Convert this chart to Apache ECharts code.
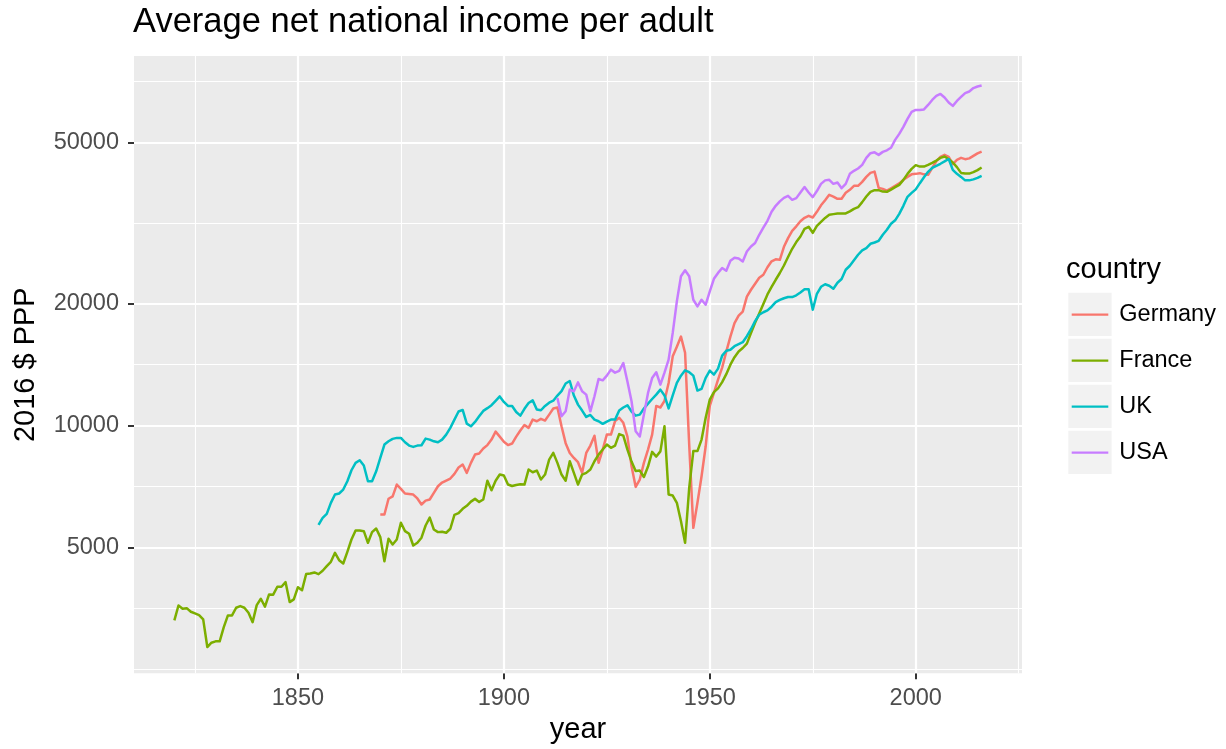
<!DOCTYPE html>
<html><head><meta charset="utf-8">
<script src="https://cdn.jsdelivr.net/npm/echarts@6/dist/echarts.min.js"></script>
<style>html,body{margin:0;padding:0;background:#fff}#c{width:1226px;height:749px}</style>
</head><body><div id="c"></div>
<script>
const countries = ['Germany', 'France', 'UK', 'USA'];
const colors = ['#F8766D', '#7CAE00', '#00BFC4', '#C77CFF'];
const startYears = [1870, 1820, 1855, 1913];

const germany = [
  6024,6024,6590,6680,7143,6970,6788,6770,6749,6600,
  6376,6520,6560,6815,7074,7225,7308,7392,7592,7870,
  8003,7634,8081,8471,8520,8765,8940,9224,9650,9380,
  9110,8940,9020,9380,9710,10020,9860,10334,10240,10380,
  10280,10632,11010,11070,9950,9040,8550,8310,8110,7634,
  8550,8915,9430,8081,8715,9490,9490,10250,10440,10150,
  9380,7930,7050,7349,8081,8715,9490,11170,11070,11500,
  12730,14810,15650,16570,15110,8966,5584,6438,7490,8880,
  11170,12030,12971,13890,15210,16560,17900,18660,19090,20790,
  21630,22380,23160,23554,24580,25430,25720,25649,27620,29010,
  30240,31030,31930,32560,32940,32620,33690,34960,35970,37107,
  36750,36280,36280,37540,38177,39050,39050,39950,41100,42040,
  42350,38600,38390,38000,38520,39050,39610,40408,41100,41690,
  41810,41980,41690,41573,43270,44920,46050,46575,46050,44180,
  45271,45790,45450,45660,46310,46980,47470
];
const france = [
  3300,3590,3525,3537,3465,3432,3400,3317,2835,2906,
  2928,2928,3176,3394,3394,3545,3578,3545,3446,3266,
  3599,3732,3566,3824,3818,3994,3994,4100,3661,3717,
  3985,3918,4296,4309,4333,4292,4374,4491,4604,4845,
  4646,4560,4873,5226,5501,5501,5480,5129,5450,5564,
  5297,4620,5247,5080,5226,5746,5480,5400,5051,5129,
  5280,5659,5918,5532,5450,5462,5431,5556,6012,6071,
  6221,6328,6483,6584,6472,6560,7300,6915,7300,7561,
  7518,7143,7085,7123,7155,7143,7779,7660,7735,7349,
  7561,8233,8553,8081,7561,7300,8154,7634,7143,7561,
  7634,7779,8154,8471,8715,8966,8805,8912,9517,9436,
  8715,8140,7712,7735,7455,7913,8601,8376,8627,9949,
  6749,6710,6438,5800,5129,7010,8641,8641,9224,10440,
  11578,12080,12340,12790,13384,14125,14740,15230,15530,15920,
  16910,17930,18900,19940,21060,21980,22894,23790,24830,26050,
  27300,28360,29280,30590,30940,29900,31110,31830,32540,33122,
  33250,33380,33380,33380,33770,34270,34590,35600,36750,37740,
  38110,38110,37800,37740,38240,38760,39277,40408,41810,43020,
  43930,43580,43580,44000,44510,45090,45790,46140,45450,44590,
  43440,42040,41870,41870,42210,42700,43340
];
const uk = [
  5680,5910,6048,6438,6749,
  6788,6943,7278,7748,8081,8200,7958,7278,7278,7704,
  8313,8966,9136,9261,9314,9314,9085,8915,8850,8915,
  8932,9276,9224,9136,9085,9224,9490,9860,10334,10820,
  10920,10100,9950,10200,10530,10860,11030,11220,11500,11790,
  11430,11170,11170,10790,10570,10990,11360,11530,10950,10900,
  11170,11380,11510,11850,12150,12690,12870,11850,11254,10880,
  10490,10610,10334,10240,10090,10220,10334,10334,10880,11070,
  11210,10820,10570,10630,11010,11320,11620,11910,12255,11860,
  11010,11860,12730,13270,13680,13530,13270,12190,12310,13100,
  13650,13345,13810,14870,15290,15382,15690,15870,16050,16610,
  17280,18090,18766,19030,19230,19640,20150,20410,20610,20750,
  20750,20960,21300,21690,21690,19307,21140,22000,22320,22130,
  21750,22510,22990,24233,24790,25580,26389,27070,27410,28090,
  28300,28570,29564,30416,31470,32100,33310,34860,36690,37520,
  38270,39650,41000,42290,43270,43770,44280,44870,45500,42771,
  41810,41090,40290,40290,40520,40870,41340
];
const usa = [
  11690,10530,10833,12255,12140,12770,12140,
  11912,10833,11800,13020,12920,13270,13730,13500,13640,14260,
  12840,11470,9670,9390,10632,12030,13090,13530,12608,13500,
  14532,16920,20240,23350,24170,23350,20435,19670,20435,19863,
  21420,23020,23800,24470,24100,25500,25960,25830,25410,26890,
  27660,28210,29564,30790,32010,33700,34860,35760,36480,36900,
  36068,36420,37600,38780,37600,36630,37920,39500,40290,40408,
  39500,39790,38540,39500,41810,42530,43110,44003,45790,47030,
  47250,46575,47380,47800,48510,50720,52480,54600,57150,59460,
  60143,60143,60310,61876,63659,65120,65870,64570,62760,61530,
  63300,64750,66200,66800,68100,68700,69100
];
const seriesValues = [germany, france, uk, usa];

const xMajor = [1850, 1900, 1950, 2000];
const xMinor = [1825, 1875, 1925, 1975, 2025];
const yMajor = [5000, 10000, 20000, 50000];
const yMinor = [2500, 3536, 7071, 14142, 31623, 70711];

const FONT = '"Liberation Sans", Arial, Helvetica, sans-serif';
const chart = echarts.init(document.getElementById('c'), null, {renderer: 'canvas'});

const gridLines = [].concat(
  yMinor.map(v => ({yAxis: v, lineStyle: {color: '#FFFFFF', width: 1.1, type: 'solid'}})),
  xMinor.map(v => ({xAxis: v, lineStyle: {color: '#FFFFFF', width: 1.1, type: 'solid'}})),
  yMajor.map(v => ({yAxis: v, lineStyle: {color: '#FFFFFF', width: 2.2, type: 'solid'}})),
  xMajor.map(v => ({xAxis: v, lineStyle: {color: '#FFFFFF', width: 2.2, type: 'solid'}}))
);

const series = [{
  name: 'grid', type: 'line', data: [], silent: true, z: 1,
  markLine: {silent: true, symbol: ['none', 'none'], animation: false, z: 1,
    label: {show: false}, emphasis: {disabled: true}, data: gridLines}
}].concat(countries.map((c, i) => ({
  name: c, type: 'line', z: 3,
  color: colors[i],
  showSymbol: false, symbol: 'none',
  lineStyle: {width: 2.5, color: colors[i], cap: 'butt', join: 'round'},
  emphasis: {disabled: true},
  data: seriesValues[i].map((v, k) => [startYears[i] + k, v])
})));

chart.setOption({
  animation: false,
  backgroundColor: '#FFFFFF',
  textStyle: {fontFamily: FONT},
  title: [
    {text: 'Average net national income per adult', left: 133, top: 5, padding: 0,
     textStyle: {fontSize: 34.5, fontWeight: 'normal', color: '#000', fontFamily: FONT, lineHeight: 34.5}},
    {text: 'country', left: 1066, top: 255.5, padding: 0,
     textStyle: {fontSize: 29, fontWeight: 'normal', color: '#000', fontFamily: FONT, lineHeight: 29}}
  ],
  legend: {
    orient: 'vertical', left: 1071.7, top: 292.7, padding: 0,
    itemWidth: 36.6, itemHeight: 2.2, itemGap: 2, icon: 'rect',
    selectedMode: false, data: countries,
    itemStyle: {borderWidth: 0},
    textStyle: {fontSize: 23.5, color: '#000', fontFamily: FONT, lineHeight: 44, padding: [0, 0, 0, 6]}
  },
  graphic: countries.map((c, i) => ({
    type: 'rect', left: 1068.3, top: 292.7 + 46 * i, z: 0, silent: true,
    shape: {width: 43.3, height: 43.3}, style: {fill: '#F2F2F2'}
  })),
  grid: {left: 134, right: 204, top: 56, bottom: 75, show: true, backgroundColor: '#EBEBEB', borderWidth: 0},
  xAxis: {
    type: 'value', min: 1810.2, max: 2025.8,
    axisLine: {show: false}, splitLine: {show: false},
    axisTick: {show: true, length: 6, lineStyle: {color: '#333333', width: 2}, customValues: xMajor},
    axisLabel: {customValues: xMajor, color: '#4D4D4D', fontSize: 23.5, lineHeight: 23.5, margin: 13,
      fontFamily: FONT, formatter: v => String(v)},
    name: 'year', nameLocation: 'middle', nameGap: 39.5,
    nameTextStyle: {fontSize: 29, color: '#000', fontFamily: FONT, lineHeight: 29}
  },
  yAxis: {
    type: 'log', logBase: 10, min: 2441, max: 81730,
    axisLine: {show: false}, splitLine: {show: false}, minorSplitLine: {show: false},
    axisTick: {show: true, length: 6, lineStyle: {color: '#333333', width: 2}, customValues: yMajor},
    axisLabel: {customValues: yMajor, color: '#4D4D4D', fontSize: 23.5, lineHeight: 23.5, margin: 15,
      fontFamily: FONT, formatter: v => String(Math.round(v))},
    name: '2016 $ PPP', nameLocation: 'middle', nameGap: 93.5, nameRotate: 90,
    nameTextStyle: {fontSize: 29, color: '#000', fontFamily: FONT, lineHeight: 29}
  },
  series: series
});
</script>
</body></html>
